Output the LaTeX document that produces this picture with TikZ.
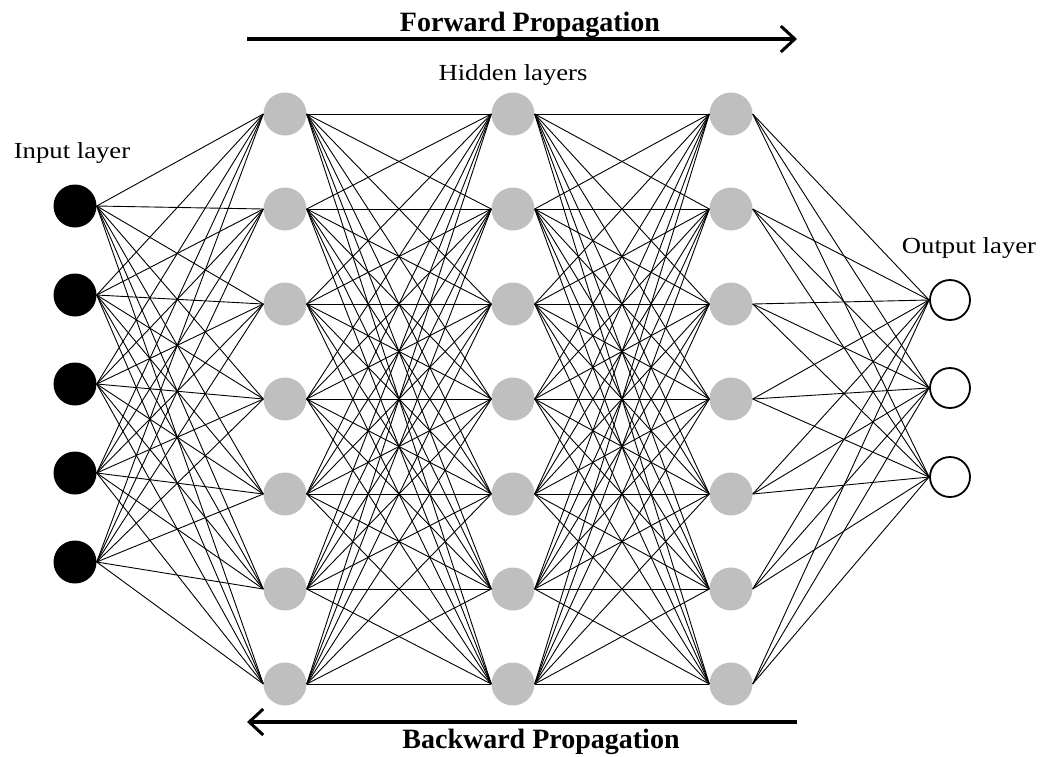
\documentclass[tikz,border=0pt]{standalone}
\usepackage{fontspec}
\setmainfont{Liberation Serif}
\usetikzlibrary{arrows.meta}
\begin{document}
\begin{tikzpicture}[x=1pt,y=-1pt,
  inputnode/.style={circle,fill=black,draw=none,minimum size=43pt,inner sep=0pt},
  hiddennode/.style={circle,fill=gray!50!white,draw=none,minimum size=43pt,inner sep=0pt},
  outputnode/.style={circle,fill=white,draw=black,line width=1.8pt,minimum size=40pt,inner sep=0pt},
  conn/.style={draw=black,line width=0.9pt},
  bigarrow/.style={draw=black,line width=4pt,-{Straight Barb[length=14pt,width=26pt,line width=3pt]}},
  lbl/.style={font=\fontsize{23}{27}\selectfont,anchor=base,inner sep=0pt},
  blbl/.style={font=\fontsize{28}{32}\selectfont\bfseries,anchor=base,inner sep=0pt}]
\useasboundingbox (0,0) rectangle (1042,756);
% nodes
\foreach \i/\y in {1/206,2/295,3/384,4/473,5/562}
  \node[inputnode] (in\i) at (75,\y) {};
\foreach \l/\x in {1/285,2/513,3/731}
  \foreach \j in {1,...,7}
    \node[hiddennode] (h\l-\j) at (\x,{114+95*(\j-1)}) {};
\foreach \k/\y in {1/300,2/388,3/477}
  \node[outputnode] (out\k) at (950,\y) {};
% connections
\foreach \i in {1,...,5}
  \foreach \j in {1,...,7}
    \draw[conn] (in\i.east) -- (h1-\j.west);
\foreach \a/\b in {1/2,2/3}
  \foreach \i in {1,...,7}
    \foreach \j in {1,...,7}
      \draw[conn] (h\a-\i.east) -- (h\b-\j.west);
\foreach \i in {1,...,7}
  \foreach \k in {1,2,3}
    \draw[conn] (h3-\i.east) -- (out\k.west);
% labels
\node[lbl] (tin) at (72,158) {\scalebox{1.16}[1]{Input layer}};
\node[lbl] (thid) at (513,80) {\scalebox{1.16}[1]{Hidden layers}};
\node[lbl] (tout) at (969,253) {\scalebox{1.16}[1]{Output layer}};
\node[blbl] (tfwd) at (530,31) {Forward Propagation};
\node[blbl] (tbwd) at (541,748) {Backward Propagation};
% arrows
\coordinate (f1) at (247,39);
\coordinate (f2) at (797,39);
\coordinate (b1) at (797,722);
\coordinate (b2) at (247,722);
\draw[bigarrow] (f1) -- (f2);
\draw[bigarrow] (b1) -- (b2);
\end{tikzpicture}
\end{document}
